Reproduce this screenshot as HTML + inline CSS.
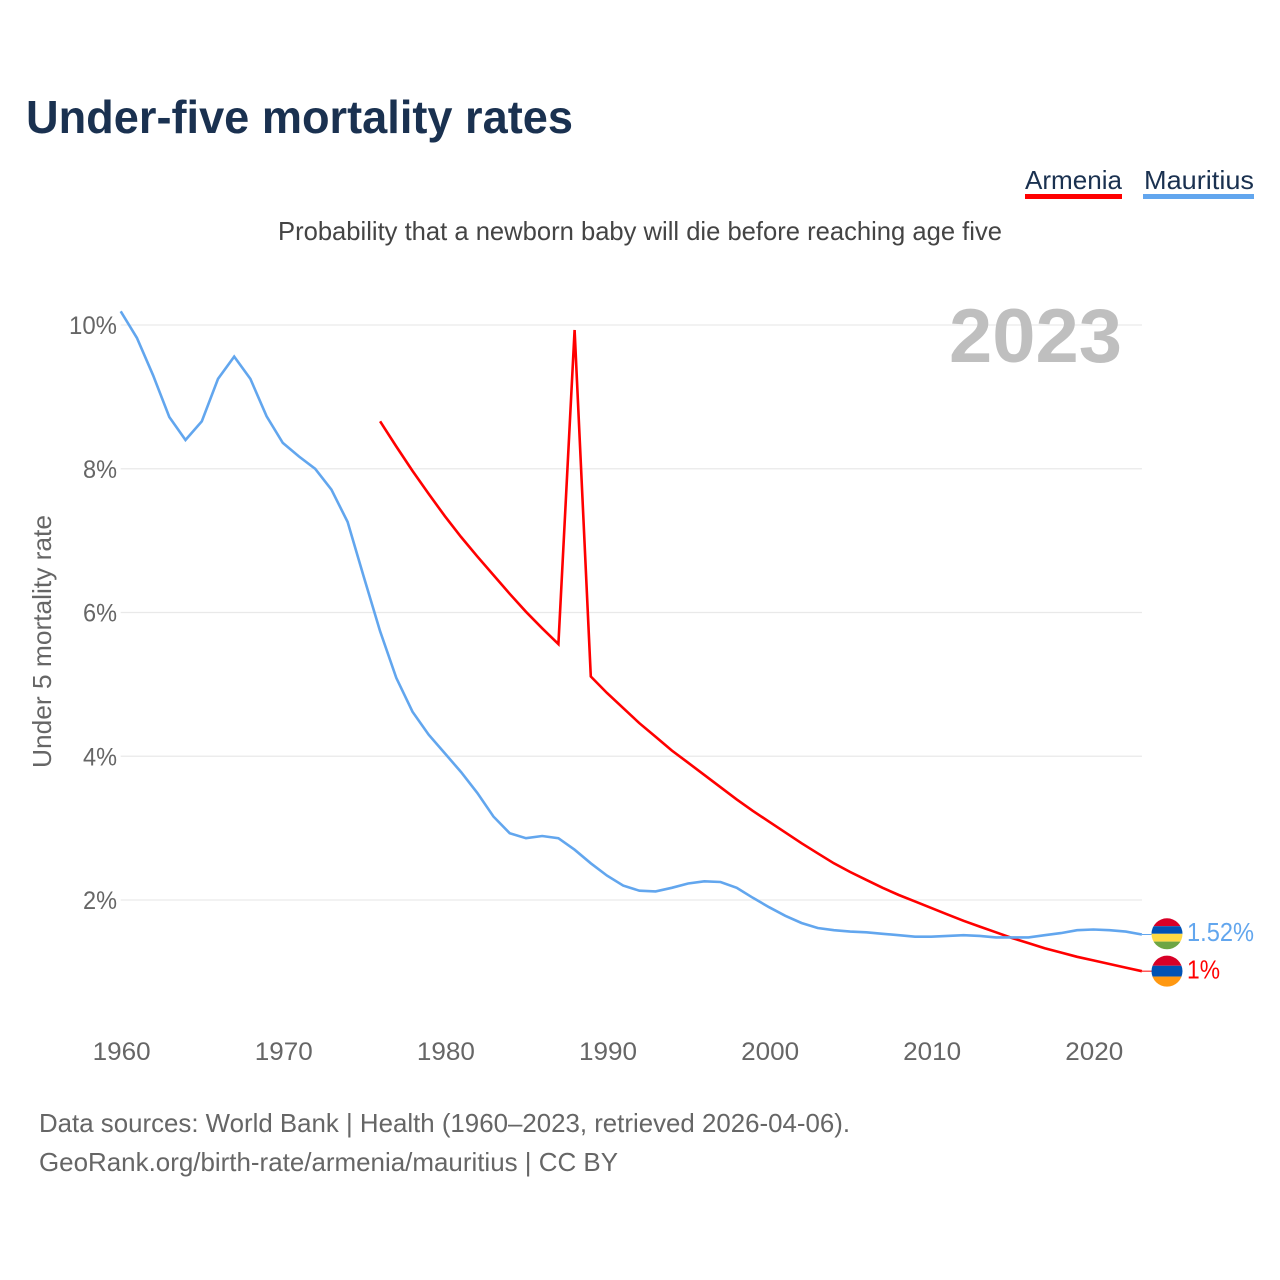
<!DOCTYPE html>
<html lang="en">
<head>
<meta charset="utf-8">
<title>Under-five mortality rates</title>
<style>
  html, body { margin: 0; padding: 0; background: #fff; }
  svg { display: block; font-family: "Liberation Sans", sans-serif; }
</style>
</head>
<body>
<svg id="chart" xmlns="http://www.w3.org/2000/svg" width="1280" height="1280" viewBox="0 0 1280 1280">
  <defs>
    <clipPath id="flag-clip"><circle cx="0" cy="0" r="15.5"></circle></clipPath>
  </defs>
  <rect x="0" y="0" width="1280" height="1280" fill="#ffffff"></rect>

  <text x="26" y="133" font-size="46" font-weight="700" fill="#1a3150" textLength="547" lengthAdjust="spacingAndGlyphs">Under-five mortality rates</text>

  <g>
    <g>
      <text x="1025" y="189" font-size="26" fill="#1a3150" textLength="97" lengthAdjust="spacingAndGlyphs">Armenia</text>
      <rect x="1025" y="194" width="97" height="5" fill="#ff0000"></rect>
    </g>
    <g>
      <text x="1144" y="189" font-size="26" fill="#1a3150" textLength="110" lengthAdjust="spacingAndGlyphs">Mauritius</text>
      <rect x="1143" y="194" width="111" height="5" fill="#62a6ee"></rect>
    </g>
  </g>

  <text x="278" y="240" font-size="26" fill="#444444" textLength="724" lengthAdjust="spacingAndGlyphs">Probability that a newborn baby will die before reaching age five</text>

  <g id="grid"></g>

  <text x="949" y="362" font-size="76" font-weight="700" fill="#bfbfbf" textLength="173" lengthAdjust="spacingAndGlyphs">2023</text>

  <g id="y-ticks"></g>
  <g id="x-ticks"></g>

  <text transform="translate(51,768) rotate(-90)" x="0" y="0" font-size="26" fill="#666666" textLength="253" lengthAdjust="spacingAndGlyphs">Under 5 mortality rate</text>

  <g id="series"></g>

  <g id="flag-mauritius">
    <g clip-path="url(#flag-clip)">
      <rect x="-16" y="-16" width="32" height="8.4" fill="#d80027"></rect>
      <rect x="-16" y="-7.6" width="32" height="7.6" fill="#0052b4"></rect>
      <rect x="-16" y="0" width="32" height="7.8" fill="#ffda44"></rect>
      <rect x="-16" y="7.8" width="32" height="8.2" fill="#6da544"></rect>
    </g>
  </g>
  <g id="flag-armenia">
    <g clip-path="url(#flag-clip)">
      <rect x="-16" y="-16" width="32" height="10.6" fill="#d80027"></rect>
      <rect x="-16" y="-5.4" width="32" height="10.8" fill="#0052b4"></rect>
      <rect x="-16" y="5.4" width="32" height="10.6" fill="#ff9811"></rect>
    </g>
  </g>

  <text id="end-label-mauritius" x="1187" font-size="26" fill="#62a6ee" textLength="67" lengthAdjust="spacingAndGlyphs">1.52%</text>
  <text id="end-label-armenia" x="1187" font-size="26" fill="#ff0000" textLength="33" lengthAdjust="spacingAndGlyphs">1%</text>

  <text x="39" y="1132" font-size="26" fill="#666666" textLength="811" lengthAdjust="spacingAndGlyphs">Data sources: World Bank | Health (1960–2023, retrieved 2026-04-06).</text>
  <text x="39" y="1171" font-size="26" fill="#666666" textLength="579" lengthAdjust="spacingAndGlyphs">GeoRank.org/birth-rate/armenia/mauritius | CC BY</text>
</svg>

<script>
const years = [1960,1961,1962,1963,1964,1965,1966,1967,1968,1969,
  1970,1971,1972,1973,1974,1975,1976,1977,1978,1979,
  1980,1981,1982,1983,1984,1985,1986,1987,1988,1989,
  1990,1991,1992,1993,1994,1995,1996,1997,1998,1999,
  2000,2001,2002,2003,2004,2005,2006,2007,2008,2009,
  2010,2011,2012,2013,2014,2015,2016,2017,2018,2019,
  2020,2021,2022,2023];
const mauritius = [10.19,9.82,9.30,8.72,8.40,8.66,9.25,9.56,9.25,8.73,
  8.36,8.17,8.00,7.71,7.26,6.49,5.74,5.09,4.62,4.30,
  4.04,3.78,3.49,3.16,2.93,2.86,2.89,2.86,2.70,2.51,
  2.34,2.20,2.13,2.12,2.17,2.23,2.26,2.25,2.17,2.03,
  1.90,1.78,1.68,1.61,1.58,1.56,1.55,1.53,1.51,1.49,
  1.49,1.50,1.51,1.50,1.48,1.48,1.48,1.51,1.54,1.58,
  1.59,1.58,1.56,1.52];
const armenia = [null,null,null,null,null,null,null,null,null,null,
  null,null,null,null,null,null,8.66,8.31,7.97,7.65,
  7.34,7.05,6.78,6.52,6.26,6.01,5.78,5.56,9.93,5.11,
  4.88,4.67,4.46,4.27,4.08,3.91,3.74,3.57,3.40,3.24,
  3.09,2.94,2.79,2.65,2.51,2.39,2.28,2.17,2.07,1.98,
  1.89,1.80,1.71,1.63,1.55,1.47,1.40,1.33,1.27,1.21,
  1.16,1.11,1.06,1.01];
const xTickYears = [1960,1970,1980,1990,2000,2010,2020];
const xTickLabels = ["1960","1970","1980","1990","2000","2010","2020"];
const yTickValues = [2,4,6,8,10];
const yTickLabels = ["2%","4%","6%","8%","10%"];

const NS = "http://www.w3.org/2000/svg";
function xScale(year) { return 120.7 + (year - 1960) * 16.21; }
function yScale(value) { return 900 - (value - 2) * 71.875; }

const gridGroup = document.getElementById("grid");
const yTickGroup = document.getElementById("y-ticks");
const xTickGroup = document.getElementById("x-ticks");
const seriesGroup = document.getElementById("series");

yTickValues.forEach(function (value, i) {
  const line = document.createElementNS(NS, "line");
  
  
  line.setAttribute("x1", xScale(1960));
  line.setAttribute("x2", xScale(2023));
  line.setAttribute("y1", yScale(value));
  line.setAttribute("y2", yScale(value));
  line.setAttribute("stroke", "#e9e9e9");
  line.setAttribute("stroke-width", "1.2");
  gridGroup.appendChild(line);

  const label = document.createElementNS(NS, "text");
  
  
  label.setAttribute("x", 117);
  label.setAttribute("y", yScale(value) + 9);
  label.setAttribute("text-anchor", "end");
  label.setAttribute("font-size", "25");
  label.setAttribute("fill", "#666666");
  label.setAttribute("textLength", yTickLabels[i].length === 3 ? 48 : 34);
  label.setAttribute("lengthAdjust", "spacingAndGlyphs");
  label.textContent = yTickLabels[i];
  yTickGroup.appendChild(label);
});

xTickYears.forEach(function (year, i) {
  const label = document.createElementNS(NS, "text");
  
  
  label.setAttribute("x", xScale(year) + 1);
  label.setAttribute("y", 1060);
  label.setAttribute("text-anchor", "middle");
  label.setAttribute("font-size", "25");
  label.setAttribute("fill", "#666666");
  label.setAttribute("textLength", 58);
  label.setAttribute("lengthAdjust", "spacingAndGlyphs");
  label.textContent = xTickLabels[i];
  xTickGroup.appendChild(label);
});

function pathFor(values) {
  let d = "";
  values.forEach(function (value, i) {
    if (value === null) return;
    d += (d ? "L" : "M") + xScale(years[i]).toFixed(1) + " " + yScale(value).toFixed(1);
  });
  return d;
}

function lastValue(values) {
  return values[values.length - 1];
}

const armeniaLine = document.createElementNS(NS, "path");


armeniaLine.setAttribute("d", pathFor(armenia));
armeniaLine.setAttribute("fill", "none");
armeniaLine.setAttribute("stroke", "#ff0000");
armeniaLine.setAttribute("stroke-width", "2.6");
seriesGroup.appendChild(armeniaLine);

const mauritiusLine = document.createElementNS(NS, "path");


mauritiusLine.setAttribute("d", pathFor(mauritius));
mauritiusLine.setAttribute("fill", "none");
mauritiusLine.setAttribute("stroke", "#62a6ee");
mauritiusLine.setAttribute("stroke-width", "2.6");
seriesGroup.appendChild(mauritiusLine);

const armeniaLeader = document.createElementNS(NS, "line");


armeniaLeader.setAttribute("x1", xScale(2023));
armeniaLeader.setAttribute("x2", 1152);
armeniaLeader.setAttribute("y1", yScale(lastValue(armenia)));
armeniaLeader.setAttribute("y2", yScale(lastValue(armenia)));
armeniaLeader.setAttribute("stroke", "#ff0000");
armeniaLeader.setAttribute("stroke-width", "1");
seriesGroup.appendChild(armeniaLeader);

const mauritiusLeader = document.createElementNS(NS, "line");


mauritiusLeader.setAttribute("x1", xScale(2023));
mauritiusLeader.setAttribute("x2", 1152);
mauritiusLeader.setAttribute("y1", yScale(lastValue(mauritius)));
mauritiusLeader.setAttribute("y2", yScale(lastValue(mauritius)));
mauritiusLeader.setAttribute("stroke", "#62a6ee");
mauritiusLeader.setAttribute("stroke-width", "1");
seriesGroup.appendChild(mauritiusLeader);

document.getElementById("flag-mauritius").setAttribute("transform", "translate(1167," + (yScale(lastValue(mauritius)) - 0.7) + ")");
document.getElementById("flag-armenia").setAttribute("transform", "translate(1167," + yScale(lastValue(armenia)) + ")");
document.getElementById("end-label-mauritius").setAttribute("y", yScale(lastValue(mauritius)) + 6.5);
document.getElementById("end-label-armenia").setAttribute("y", yScale(lastValue(armenia)) + 7.5);
</script>
</body>
</html>
